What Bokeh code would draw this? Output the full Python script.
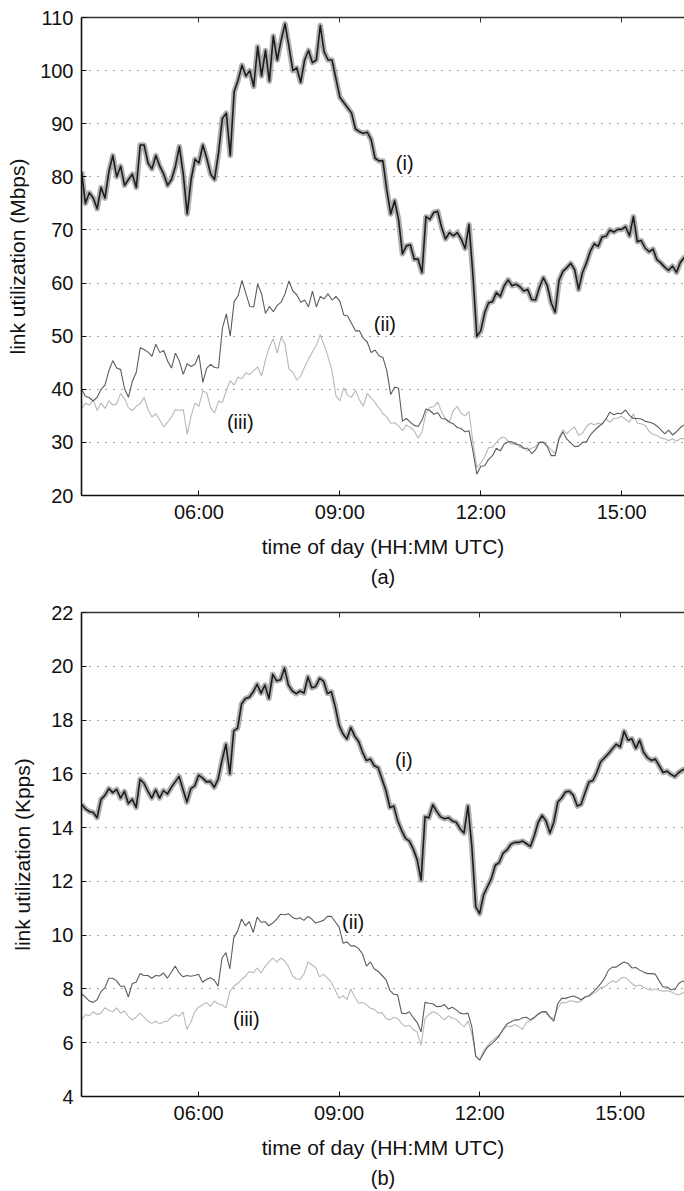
from bokeh.plotting import figure
from bokeh.models import FixedTicker, LinearAxis, Range1d, Title
from bokeh.layouts import column
from bokeh.core.properties import value
from bokeh.embed import file_html
from bokeh.resources import INLINE

FONT = "Liberation Sans"

# sampling clock: every 5 minutes from 03:30 UTC
START_MIN = 210
STEP_MIN = 5

# ---------------- panel (a): Mbps ----------------
mbps_i = [
    81, 75, 77, 76, 74, 78, 76, 81, 84, 80,
    82, 78.4, 79.5, 80.5, 78, 86, 86, 82.6, 81.5, 84,
    82, 80.5, 78.4, 79.5, 82, 85.7, 80.5, 73, 79.5, 83.3,
    82.6, 86, 83.5, 80.5, 79.5, 84.5, 91, 92, 84, 96,
    98.2, 101, 99, 100, 97, 104.5, 99, 103.8, 98, 106.5,
    102, 105.7, 108.8, 104.5, 100, 100.5, 97.8, 102, 103.8, 101.5,
    102, 108.5, 103.5, 102, 102, 98.5, 95, 94, 93, 92,
    89, 88.5, 88.2, 88.4, 87, 83.5, 83,
    83, 77.5, 73, 75.5, 72, 65.5, 67, 67.2, 64.5, 64.5,
    62, 72.5, 72, 73.3, 73.5, 70.5, 68.3, 69.5, 68.9, 69.5,
    68.3, 66.5, 71, 61.5, 50, 51, 54.4, 56.3, 56.5, 58.2,
    57.5, 59.5, 60.6, 59.5, 59.8, 59.3, 58.5, 58.8, 56.9, 56.8,
    59.2, 61, 59.5, 56.3, 54.5, 60.5, 62.2, 62.9, 63.7, 62.5,
    58.8, 62, 63.8, 66, 67.4, 66.9, 68.7, 68.8, 70, 69.6,
    70.1, 70.1, 70.6, 68.9, 72.5, 67.8, 68, 66.6, 65.9, 66.4,
    64.4, 63.8, 63, 62.4, 63.2, 62, 63.9, 64.8, 65.2,
]
mbps_ii = [
    40, 38.7, 38.4, 37.8, 38.5, 40, 40.8, 43.5, 45.4, 44,
    43.7, 40.1, 38.5, 41.5, 43.2, 47.8, 47.5, 47, 46.2, 48.5,
    46.9, 47.3, 45.3, 44, 46.8, 45.3, 42.8, 44.8, 44.3, 44.7,
    46.5, 41.3, 44, 44.7, 44.1, 44, 51.5, 54.2, 50, 56.5,
    57.6, 60.5, 58, 55.6, 55.5, 59.8, 58, 54.3, 55.6, 54.6,
    55.8, 56.4, 58, 60.4, 58.5, 57.8, 56.4, 56.8, 55.5, 58.5,
    55.5, 57.5, 57, 58, 56.8, 57.5, 56.6, 54, 53.8, 52.4,
    51, 51, 49.6, 48.9, 46.9, 47.4, 46.3,
    46, 43.5, 39, 40.4, 40.2, 34, 34.5, 33.8, 33.2, 33,
    34.2, 36.3, 36, 35.3, 35.6, 34.5, 34.4, 33.8, 33.5, 32.8,
    32.6, 32, 32.2, 28.4, 24, 25.5, 25.6, 26.8, 27.5, 28.9,
    28.4, 29.7, 30.1, 30.1, 29.6, 29.5, 28.9, 28.9, 27.9, 28.6,
    30, 30, 29.2, 27.5, 27.5, 30.6, 32, 30.6, 29.9, 29.2,
    29.3, 30, 30.1, 31.4, 32.2, 32.9, 33.5, 34.4, 35.7, 35.2,
    35.5, 35.4, 36.1, 35.1, 34.5, 34.5, 34.4, 34, 33.8, 33.6,
    33.1, 32.4, 31.6, 32.3, 31.4, 32, 32.8, 33.3, 33,
]
mbps_iii = [
    36.3, 37.4, 37, 38, 36, 37.4, 36.4, 37.8, 37, 37.3,
    39.2, 38.2, 36.5, 36, 36.8, 37.3, 38.5, 36.2, 34.8, 35.4,
    34.2, 32.9, 33.8, 34.8, 36.2, 36, 36.2, 31.5, 35, 37.4,
    36.8, 39.7, 39.3, 36.5, 35.5, 37.8, 37.5, 39.8, 41.6, 40.8,
    42.3, 42, 43.1, 42.8, 43.5, 44.2, 42.5, 45.5, 48, 49.5,
    46.8, 49.8, 48.5, 43.8, 43.2, 41.7, 42.5, 44.2, 45.7, 47,
    48.3, 50.3, 48.3, 46.1, 43.5, 38.8, 37.8, 40.3, 38.9, 38.5,
    39.8, 38, 36.8, 39.2, 38.4, 37.5, 36.5,
    35.4, 34.8, 33.6, 33.7, 33.1, 32.2, 33.3, 32.8, 32.2, 30.8,
    32, 35.5, 36.6, 36.7, 37.6, 35.8, 34.4, 33.9, 36, 36.8,
    35.5, 35, 35.8, 30, 25.3, 26.1, 27.3, 29, 29.1, 30,
    30.8, 31, 30.3, 29.6, 30, 29.1, 28.9, 28.4, 28.9, 29.2,
    30, 30.1, 29.4, 28.6, 27.9, 31, 32.4, 31.6, 32.4, 32.9,
    31.3, 31.7, 33, 33.6, 33.3, 33.6, 33.4, 34.4, 33.8, 34.5,
    34.6, 34.9, 34.3, 33.8, 35.4, 33.6, 33.5, 33.2, 32.1, 31.5,
    31.3, 30.8, 30.7, 30.3, 30.7, 30.2, 30.7, 30.7, 30.6,
]

# ---------------- panel (b): Kpps ----------------
kpps_i = [
    14.87, 14.7, 14.6, 14.56, 14.37, 15.05, 15.2, 15.45, 15.3, 15.42,
    15.1, 15.35, 14.9, 15.05, 14.75, 15.8, 15.65, 15.36, 15.1, 15.4,
    15.1, 15.38, 15.25, 15.5, 15.7, 15.9, 15.42, 14.95, 15.45, 15.55,
    15.95, 15.85, 15.7, 15.72, 15.5, 15.8, 16.5, 17.1, 16.0, 17.6,
    17.7, 18.6, 18.8, 18.85, 19.05, 19.33, 19.0, 19.3, 18.8, 19.7,
    19.46, 19.5, 19.93, 19.3, 19.08, 18.98, 19.08, 19.0, 19.6, 19.2,
    19.25, 19.55,
    19.45, 18.99, 19.05, 18.5, 17.8, 17.48, 17.3, 17.72, 17.4, 17.2,
    16.8, 16.5, 16.55, 16.3, 16.23, 15.8, 15.37, 14.75, 14.8, 14.25,
    13.9, 13.6, 13.5, 13.2, 12.8, 12.05, 14.4, 14.37, 14.85, 14.6,
    14.4, 14.33, 14.37, 14.25, 14.2, 13.95, 13.8, 14.8, 13.3, 11.05,
    10.8, 11.5, 11.8, 12.1, 12.6, 12.7, 13.05, 13.17, 13.38, 13.45,
    13.45, 13.5, 13.4, 13.3, 13.7, 14.2, 14.45, 14.25, 13.8, 14.2,
    14.95, 15.1, 15.33, 15.35, 15.2, 14.8, 14.87, 15.3, 15.7, 15.75,
    16.05, 16.45, 16.6, 16.75, 16.93, 17.1, 17.0, 17.58, 17.25, 17.3,
    16.95, 17.25, 16.8, 16.6, 16.5, 16.55, 16.3, 16.05, 16.1, 15.98,
    15.9, 16.05, 16.15, 16.2,
]
kpps_ii = [
    7.82, 7.7, 7.55, 7.5, 7.6, 7.9, 8.05, 8.4, 8.4, 8.3,
    8.1, 8.1, 7.7, 8.2, 8.25, 8.57, 8.5, 8.5, 8.4, 8.5,
    8.48, 8.6, 8.4, 8.62, 8.85, 8.6, 8.45, 8.5, 8.47, 8.5,
    8.55, 8.25, 8.35, 8.42, 8.33, 8.1, 9.15, 9.35, 8.75, 9.9,
    10.15, 10.6, 10.35, 10.5, 10.1, 10.67, 10.48, 10.5, 10.35, 10.45,
    10.6, 10.78, 10.76, 10.8, 10.67, 10.6, 10.65, 10.55, 10.7, 10.6,
    10.45, 10.5,
    10.55, 10.7, 10.7, 10.5, 10.3, 9.7, 9.75, 9.6, 9.6, 9.5,
    9.3, 8.85, 9.0, 8.75, 8.65, 8.5, 8.35, 7.95, 7.8, 7.78,
    7.1, 7.08, 7.15, 6.93, 6.75, 6.4, 7.5, 7.47, 7.45, 7.34,
    7.35, 7.42, 7.25, 7.32, 7.22, 7.1, 7.07, 7.1, 6.6, 5.5,
    5.35, 5.6, 5.83, 5.95, 6.1, 6.25, 6.5, 6.7, 6.77, 6.85,
    6.85, 6.93, 6.95, 6.85, 6.95, 7.06, 7.15, 7.16, 6.95, 6.8,
    7.45, 7.65, 7.65, 7.7, 7.74, 7.68, 7.6, 7.7, 7.75, 7.88,
    8.02, 8.2, 8.4, 8.7, 8.81, 8.81, 8.92, 9.0, 8.95, 8.78,
    8.8, 8.7, 8.63, 8.57, 8.57, 8.55, 8.3, 8.07, 8.07, 7.97,
    7.98, 8.2, 8.3, 8.2,
]
kpps_iii = [
    6.85, 7.05, 7.0, 7.15, 7.05, 7.1, 7.3, 7.2, 7.15, 7.3,
    7.1, 7.18, 6.98, 6.85, 6.95, 7.1, 6.95, 6.8, 6.72, 6.8,
    6.7, 6.78, 6.8, 6.95, 7.05, 6.98, 7.15, 6.5, 6.75, 7.15,
    7.33, 7.4, 7.5, 7.35, 7.55, 7.45, 7.4, 7.3, 7.9, 8.1,
    8.2, 8.35, 8.48, 8.65, 8.6, 8.78, 8.6, 8.83, 9.0, 9.15,
    9.0, 9.15, 9.05, 8.85, 8.5, 8.38, 8.35, 8.55, 9.0, 8.9,
    8.8, 8.45,
    8.55, 8.4, 8.25, 7.95, 7.65, 7.75, 7.6, 8.0, 7.7, 7.47,
    7.5, 7.42, 7.28, 7.25, 7.1, 7.12, 6.9, 6.85, 6.95, 6.9,
    6.72, 6.6, 6.65, 6.48, 6.4, 5.9, 6.9, 7.05, 7.15, 7.1,
    6.97, 6.85, 7.0, 6.9, 6.87, 6.72, 6.6, 6.8, 6.35, 5.5,
    5.35, 5.7, 5.88, 6.05, 6.18, 6.3, 6.47, 6.62, 6.6, 6.68,
    6.6, 6.5, 6.75, 6.83, 6.9, 7.08, 7.15, 7.1, 6.95, 6.9,
    7.3, 7.5, 7.48, 7.55, 7.55, 7.5, 7.55, 7.7, 7.72, 7.82,
    7.9, 8.05, 8.08, 8.2, 8.3, 8.25, 8.38, 8.44, 8.35, 8.2,
    8.1, 8.15, 8.07, 7.98, 7.95, 8.0, 7.95, 7.92, 7.93, 7.9,
    7.82, 7.78, 7.85, 7.95,
]

x_ticks = [6, 9, 12, 15]
x_tick_labels = ["06:00", "09:00", "12:00", "15:00"]
mbps_ticks = [20, 30, 40, 50, 60, 70, 80, 90, 100, 110]
kpps_ticks = [4, 6, 8, 10, 12, 14, 16, 18, 20, 22]
series_names = ["(i)", "(ii)", "(iii)"]

# annotation anchor points (hours, value) for the series names
a_label_t = [10.38, 9.96, 6.88]
a_label_v = [82.6, 52.2, 33.8]
b_label_t = [10.38, 9.30, 7.02]
b_label_v = [16.5, 10.49, 6.87]

C_I = "#1c1c1c"
C_HALO = "#b0b0b0"
C_II = "#5c5c5c"
C_III = "#b8b8b8"


def times(n):
    return [(START_MIN + STEP_MIN * i) / 60.0 for i in range(n)]


def make_panel(ser_i, ser_ii, ser_iii, yticks, ylabel, tag, lab_t, lab_v,
               height, b_left, b_top, b_bottom, x_end, ax_lbl_standoff):
    p = figure(width=684, height=height, output_backend="svg",
               toolbar_location=None,
               x_range=Range1d(3.5, x_end),
               y_range=Range1d(yticks[0], yticks[-1]),
               min_border_left=b_left, min_border_right=0,
               min_border_top=b_top, min_border_bottom=b_bottom)
    p.outline_line_color = None
    p.background_fill_color = "white"
    p.border_fill_color = "white"
    p.xgrid.visible = False
    p.ygrid.ticker = FixedTicker(ticks=yticks)
    p.ygrid.grid_line_color = "#444444"
    p.ygrid.grid_line_dash = "1 7"
    p.ygrid.grid_line_width = 1

    t = times(len(ser_i))
    p.line(t, ser_iii, line_color=C_III, line_width=1.1)
    p.line(t, ser_ii, line_color=C_II, line_width=1.1)
    p.line(t, ser_i, line_color=C_HALO, line_width=5.5, line_join="round")
    p.line(t, ser_i, line_color=C_I, line_width=1.6, line_join="round")

    p.text(x=lab_t, y=lab_v, text=series_names,
           text_font=value(FONT), text_font_size="20px",
           text_align="center", text_baseline="middle", text_color="#111111")

    xa = p.xaxis[0]
    xa.ticker = FixedTicker(ticks=x_ticks)
    xa.major_label_overrides = {float(k): s for k, s in zip(x_ticks, x_tick_labels)}
    xa.axis_label = "time of day (HH:MM UTC)"
    ya = p.yaxis[0]
    ya.ticker = FixedTicker(ticks=yticks)
    ya.axis_label = ylabel
    ya.axis_label_standoff = ax_lbl_standoff
    xa.axis_label_standoff = 9
    for ax in (xa, ya):
        ax.axis_line_color = "#111111"
        ax.axis_line_width = 1.6
        ax.major_tick_in = 5
        ax.major_tick_out = 0
        ax.minor_tick_line_color = None
        ax.major_tick_line_color = "#111111"
        ax.major_label_text_font = FONT
        ax.major_label_text_font_size = "20px"
        ax.major_label_text_color = "#111111"
        ax.axis_label_text_font = FONT
        ax.axis_label_text_font_size = "21px"
        ax.axis_label_text_font_style = "normal"
        ax.axis_label_text_color = "#111111"
    xa.major_label_standoff = 5
    ya.major_label_standoff = 8

    top = LinearAxis(ticker=FixedTicker(ticks=x_ticks),
                     major_tick_in=5, major_tick_out=0,
                     minor_tick_line_color=None,
                     major_label_text_font_size="1px",
                     major_label_text_alpha=0,
                     major_label_standoff=0,
                     axis_line_color="#333333", axis_line_width=1.4,
                     major_tick_line_color="#333333")
    p.add_layout(top, "above")

    p.add_layout(Title(text=tag, align="center", text_font=FONT,
                       text_font_size="20px", text_font_style="normal",
                       text_color="#111111", standoff=6), "below")
    return p


p1 = make_panel(mbps_i, mbps_ii, mbps_iii, mbps_ticks,
                "link utilization (Mbps)", "(a)", a_label_t, a_label_v,
                height=590, b_left=81, b_top=17, b_bottom=92,
                x_end=3.5 + 603 / 46.97, ax_lbl_standoff=8)
p2 = make_panel(kpps_i, kpps_ii, kpps_iii, kpps_ticks,
                "link utilization (Kpps)", "(b)", b_label_t, b_label_v,
                height=601, b_left=76, b_top=22, b_bottom=95,
                x_end=3.5 + 608 / 47.23, ax_lbl_standoff=14)

layout = column(p1, p2, spacing=0)
open("out.html", "w").write(file_html(layout, INLINE))
